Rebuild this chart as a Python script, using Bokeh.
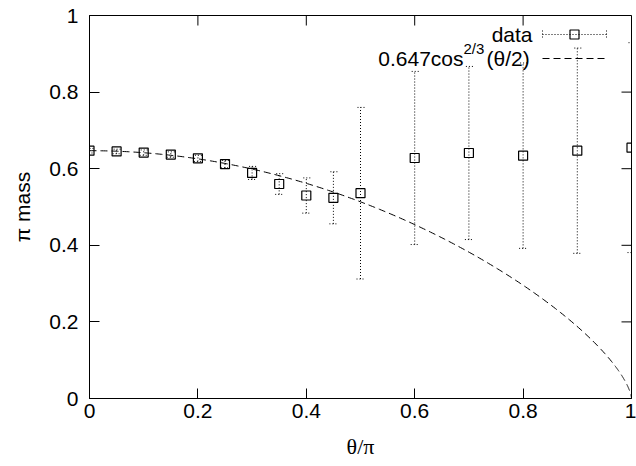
import numpy as np
from bokeh.plotting import figure
from bokeh.models import (Range1d, FixedTicker, Whisker, TeeHead,
                          ColumnDataSource, Label)
from bokeh.embed import file_html
from bokeh.resources import INLINE

# ---- data ----
theta = [0.0, 0.05, 0.1, 0.15, 0.2, 0.25, 0.3, 0.35, 0.4, 0.45, 0.5, 0.6, 0.7, 0.8, 0.9, 1.0]
mass = [0.647, 0.645, 0.642, 0.637, 0.627, 0.612, 0.589, 0.560, 0.530, 0.524, 0.536,
        0.628, 0.641, 0.634, 0.647, 0.655]
mass_err = [0.006, 0.006, 0.007, 0.007, 0.008, 0.010, 0.017, 0.027, 0.046, 0.068, 0.224,
            0.226, 0.226, 0.242, 0.268, 0.274]
fit_coef = 0.647
fit_exp = 2.0 / 3.0
x_ticks = [0.0, 0.2, 0.4, 0.6, 0.8, 1.0]
x_tick_labels = ["0", "0.2", "0.4", "0.6", "0.8", "1"]
y_ticks = [0.0, 0.2, 0.4, 0.6, 0.8, 1.0]
y_tick_labels = ["0", "0.2", "0.4", "0.6", "0.8", "1"]

W, H = 636, 466
L, R, T, B = 89, 5, 15, 68
FW, FH = W - L - R, H - T - B
TICK = 10


def fx(px):
    return (px - L) / FW


def fy(py):
    return (H - B - py) / FH


FONT = "Liberation Sans"
FS = "21px"
DOT = "1 2"

p = figure(width=W, height=H, x_range=Range1d(0, 1), y_range=Range1d(0, 1),
           output_backend="svg", toolbar_location=None,
           min_border_left=L, min_border_right=R, min_border_top=T, min_border_bottom=B)
p.grid.visible = False
p.outline_line_color = "black"
p.outline_line_width = 1
p.background_fill_color = "white"
p.border_fill_color = "white"

for ax, ticks, labels in ((p.xaxis[0], x_ticks, x_tick_labels), (p.yaxis[0], y_ticks, y_tick_labels)):
    ax.ticker = FixedTicker(ticks=ticks)
    ax.major_label_overrides = {t: l for t, l in zip(ticks, labels)}
    ax.major_tick_in = TICK
    ax.major_tick_out = 0
    ax.minor_tick_line_color = None
    ax.axis_line_color = "black"
    ax.major_tick_line_color = "black"
    ax.major_label_text_font = FONT
    ax.major_label_text_font_size = FS
    ax.major_label_text_color = "black"
    ax.axis_label_text_font_style = "normal"
    ax.axis_label_text_color = "black"

p.xaxis[0].major_label_standoff = 5
p.yaxis[0].major_label_standoff = 11
p.xaxis[0].axis_label = "θ/π"
p.xaxis[0].axis_label_text_font = "Liberation Serif"
p.xaxis[0].axis_label_text_font_size = "22px"
p.xaxis[0].axis_label_standoff = 13
p.yaxis[0].axis_label = "π mass"
p.yaxis[0].axis_label_text_font = FONT
p.yaxis[0].axis_label_text_font_size = "21px"
p.yaxis[0].axis_label_standoff = 12

# mirror ticks on top and right (gnuplot style)
p.segment(x0=x_ticks, y0=[1.0] * len(x_ticks), x1=x_ticks, y1=[1.0 - TICK / FH] * len(x_ticks),
          line_color="black", line_width=1)
p.segment(x0=[1.0] * len(y_ticks), y0=y_ticks, x1=[1.0 - TICK / FW] * len(y_ticks), y1=y_ticks,
          line_color="black", line_width=1)

# fitted curve
tt = np.concatenate([np.linspace(0, 0.97, 300), np.linspace(0.97, 1.0, 300)])
yy = fit_coef * np.clip(np.cos(np.pi * tt / 2), 0, None) ** fit_exp
p.line(tt, yy, line_color="black", line_width=1, line_dash="7 4")

# data with error bars
src = ColumnDataSource(dict(
    x=theta, y=mass,
    upper=[m + e for m, e in zip(mass, mass_err)],
    lower=[m - e for m, e in zip(mass, mass_err)],
))
wh = Whisker(source=src, base="x", upper="upper", lower="lower",
             line_color="black", line_width=1, line_dash=DOT,
             upper_head=TeeHead(size=8, line_color="black", line_width=1, line_dash=DOT),
             lower_head=TeeHead(size=8, line_color="black", line_width=1, line_dash=DOT))
p.add_layout(wh)
p.scatter("x", "y", source=src, marker="square", size=9, fill_color=None,
          line_color="black", line_width=1.2)

# ---- manual key (gnuplot style: text left, sample right) ----
p.add_layout(Label(x=fx(532), y=fy(34), text="data", text_align="right", text_color="black",
                   text_baseline="middle", text_font=FONT, text_font_size=FS))
p.segment(x0=[fx(542)], y0=[fy(34)], x1=[fx(606)], y1=[fy(34)],
          line_color="black", line_width=1, line_dash=DOT)
p.segment(x0=[fx(542), fx(606)], y0=[fy(30), fy(30)], x1=[fx(542), fx(606)], y1=[fy(38), fy(38)],
          line_color="black", line_width=1, line_dash=DOT)
p.scatter(x=[fx(574)], y=[fy(34)], marker="square", size=9, fill_color=None,
          line_color="black", line_width=1.2)

p.add_layout(Label(x=fx(463), y=fy(58), text="0.647cos", text_align="right", text_color="black",
                   text_baseline="middle", text_font=FONT, text_font_size=FS))
p.add_layout(Label(x=fx(463), y=fy(48), text="2/3", text_align="left", text_color="black",
                   text_baseline="middle", text_font=FONT, text_font_size="15px"))
p.add_layout(Label(x=fx(486), y=fy(58), text="(θ/2)", text_align="left", text_color="black",
                   text_baseline="middle", text_font=FONT, text_font_size=FS))
p.segment(x0=[fx(542)], y0=[fy(58)], x1=[fx(606)], y1=[fy(58)],
          line_color="black", line_width=1, line_dash="7 4")

open("out.html", "w").write(file_html(p, INLINE))
